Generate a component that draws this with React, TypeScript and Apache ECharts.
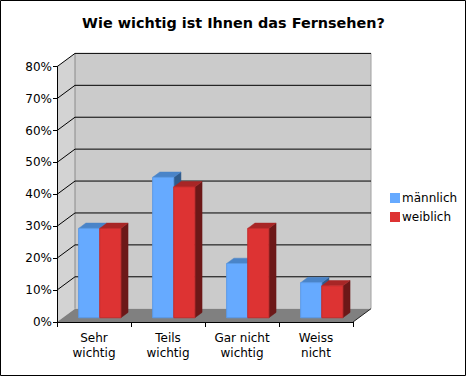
import React, { useEffect, useRef } from "react";
import * as echarts from "echarts";

const categories = ["Sehr\nwichtig", "Teils\nwichtig", "Gar nicht\nwichtig", "Weiss\nnicht"];
const maleValues = [28, 44, 17, 11];
const femaleValues = [28, 41, 28, 10];
const gridTicks = [10, 20, 30, 40, 50, 60, 70, 80];
const seriesNames = ["männlich", "weiblich"];

const FONT = "DejaVu Sans";
const DX = 18;
const DY = -13.3;
const F0 = 0.32;
const F1 = 0.72;

const palettes = [
  { front: "#66aaff", stroke: "#5b9ae6", top: "#4a84c8", side: "#2f5b8c" },
  { front: "#dd3333", stroke: "#c42c2c", top: "#a82626", side: "#6c1818" },
];

function makeBarRender(seriesIdx: number) {
  return (params: any, api: any) => {
    const cat = api.value(0);
    const val = api.value(1);
    const bandW = api.size([1, 0])[0];
    const w = bandW * 0.285;
    const base = api.coord([cat, 0]);
    const topPt = api.coord([cat, val]);
    const cx = base[0];
    const x0 = seriesIdx === 0 ? cx - w : cx;
    const y0 = base[1];
    const y1 = topPt[1];
    const p = palettes[seriesIdx];
    const fx = x0 + F0 * DX;
    const fy0 = y0 + F0 * DY;
    const fy1 = y1 + F0 * DY;
    const bx = x0 + F1 * DX;
    const by0 = y0 + F1 * DY;
    const by1 = y1 + F1 * DY;
    return {
      type: "group",
      children: [
        {
          type: "polygon",
          shape: { points: [[fx + w, fy1], [bx + w, by1], [bx + w, by0], [fx + w, fy0]] },
          style: { fill: p.side, stroke: p.side, lineWidth: 0.5 },
        },
        {
          type: "polygon",
          shape: { points: [[fx, fy1], [fx + w, fy1], [bx + w, by1], [bx, by1]] },
          style: { fill: p.top, stroke: p.top, lineWidth: 0.5 },
        },
        {
          type: "rect",
          shape: { x: fx, y: fy1, width: w, height: fy0 - fy1 },
          style: { fill: p.front, stroke: p.stroke, lineWidth: 1 },
        },
      ],
    };
  };
}

function frameRender(params: any, api: any) {
  const cs = params.coordSys;
  const gx = cs.x;
  const gy = cs.y;
  const gw = cs.width;
  const gh = cs.height;
  const children: any[] = [];
  children.push({
    type: "rect",
    shape: { x: gx + DX, y: gy + DY, width: gw, height: gh },
    style: { fill: "#cbcbcb" },
  });
  children.push({
    type: "polygon",
    shape: { points: [[gx, gy], [gx + DX, gy + DY], [gx + DX, gy + gh + DY], [gx, gy + gh]] },
    style: { fill: "#d3d3d3" },
  });
  children.push({
    type: "polygon",
    shape: { points: [[gx, gy + gh], [gx + gw, gy + gh], [gx + gw + DX, gy + gh + DY], [gx + DX, gy + gh + DY]] },
    style: { fill: "#808080" },
  });
  children.push({
    type: "line",
    shape: { x1: gx + DX, y1: gy + DY, x2: gx + DX, y2: gy + gh + DY },
    style: { stroke: "#8a8a8a", lineWidth: 1 },
  });
  children.push({
    type: "line",
    shape: { x1: gx + gw + DX, y1: gy + DY, x2: gx + gw + DX, y2: gy + gh + DY },
    style: { stroke: "#a0a0a0", lineWidth: 1 },
  });
  gridTicks.forEach((v) => {
    const y = api.coord([0, v])[1];
    children.push({
      type: "polyline",
      shape: { points: [[gx, y], [gx + DX, y + DY], [gx + gw + DX, y + DY]] },
      style: { stroke: "#000", lineWidth: 1, fill: null },
    });
  });
  children.push({
    type: "line",
    shape: { x1: gx + gw, y1: gy + gh, x2: gx + gw + DX, y2: gy + gh + DY },
    style: { stroke: "#222", lineWidth: 1 },
  });
  return { type: "group", children };
}

export default function App() {
  const ref = useRef<HTMLDivElement>(null);
  useEffect(() => {
    document.body.style.margin = "0";
    if (!ref.current) return;
    const chart = echarts.init(ref.current, null, { renderer: "svg" });
    chart.setOption({
      animation: false,
      backgroundColor: "#fff",
      textStyle: { fontFamily: FONT },
      title: {
        text: "Wie wichtig ist Ihnen das Fernsehen?",
        left: "center",
        top: 15,
        padding: 0,
        textStyle: { fontFamily: FONT, fontSize: 14.4, fontWeight: "bold", color: "#000", lineHeight: 16 },
      },
      legend: {
        orient: "vertical",
        left: 390,
        top: 191,
        padding: 0,
        itemWidth: 10,
        itemHeight: 10,
        itemGap: 5,
        icon: "rect",
        data: seriesNames,
        textStyle: { fontFamily: FONT, fontSize: 12, color: "#000", lineHeight: 14, padding: [0, 0, 0, -3] },
      },
      grid: { left: 57, width: 296, top: 66.7, height: 255.3 },
      xAxis: {
        type: "category",
        data: categories,
        z: 10,
        boundaryGap: true,
        axisLine: { show: true, lineStyle: { color: "#000", width: 1 } },
        axisTick: { show: true, length: 5, lineStyle: { color: "#000" } },
        axisLabel: { interval: 0, margin: 8, fontFamily: FONT, fontSize: 12, color: "#000", lineHeight: 15 },
        splitLine: { show: false },
      },
      yAxis: {
        type: "value",
        min: 0,
        max: 80,
        interval: 10,
        z: 10,
        axisLine: { show: true, lineStyle: { color: "#000", width: 1 } },
        axisTick: { show: true, length: 4, lineStyle: { color: "#000" } },
        axisLabel: { formatter: "{value}%", margin: 5, fontFamily: FONT, fontSize: 12, color: "#000" },
        splitLine: { show: false },
      },
      graphic: [
        {
          type: "rect",
          shape: { x: 0.5, y: 0.5, width: 465, height: 375 },
          style: { fill: null, stroke: "#000", lineWidth: 1 },
          z: 100,
          silent: true,
        },
      ],
      series: [
        {
          type: "custom",
          name: "frame",
          z: 1,
          clip: false,
          silent: true,
          renderItem: frameRender,
          data: [[0, 0]],
        },
        {
          type: "custom",
          name: seriesNames[0],
          z: 3,
          clip: false,
          itemStyle: { color: palettes[0].front },
          renderItem: makeBarRender(0),
          encode: { x: 0, y: 1 },
          data: maleValues.map((v, i) => [i, v]),
        },
        {
          type: "custom",
          name: seriesNames[1],
          z: 4,
          clip: false,
          itemStyle: { color: palettes[1].front },
          renderItem: makeBarRender(1),
          encode: { x: 0, y: 1 },
          data: femaleValues.map((v, i) => [i, v]),
        },
      ],
    });
    return () => chart.dispose();
  }, []);
  return <div ref={ref} style={{ width: 467, height: 377 }} />;
}
